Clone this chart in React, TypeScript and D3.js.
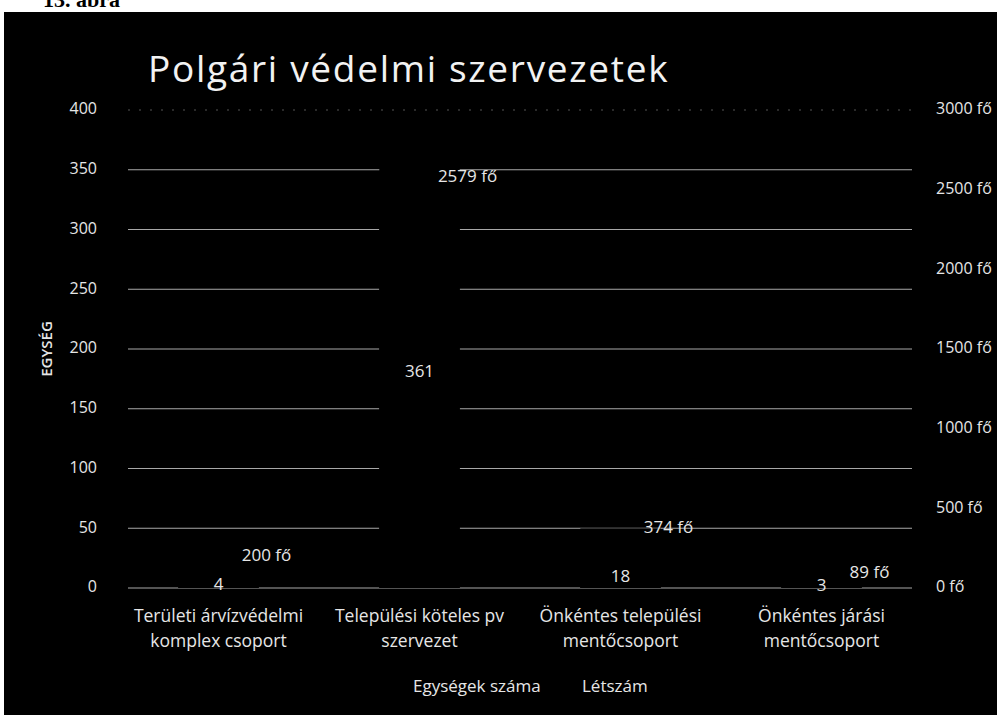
import React from "react";
import * as d3 from "d3";

const categories: string[][] = [
  ["Területi árvízvédelmi", "komplex csoport"],
  ["Települési köteles pv", "szervezet"],
  ["Önkéntes települési", "mentőcsoport"],
  ["Önkéntes járási", "mentőcsoport"],
];
const units = [4, 361, 18, 3];
const staff = [200, 2579, 374, 89];
const leftTicks = [0, 50, 100, 150, 200, 250, 300, 350, 400];
const rightTicks = [0, 500, 1000, 1500, 2000, 2500, 3000];
const seriesNames = ["Egységek száma", "Létszám"];
const titleText = "Polgári védelmi szervezetek";
const axisTitle = "EGYSÉG";
const figureLabel = "13. ábra";

export default function App() {
  const W = 997;
  const H = 715;
  const font = "'Open Sans', sans-serif";
  const txt = "#e6e6e6";

  const x = d3
    .scaleBand<number>()
    .domain(d3.range(categories.length))
    .range([118, 922])
    .padding(0);
  const yL = d3.scaleLinear().domain([0, 400]).range([588, 110]);
  const yR = d3.scaleLinear().domain([0, 3000]).range([588, 110]);
  const bw = x.bandwidth() * 0.4;
  const cx = (i: number) => (x(i) as number) + x.bandwidth() / 2;

  return (
    <svg
      width={W}
      height={H}
      style={{ position: "absolute", left: 0, top: 0, background: "#fff" }}
    >
      <text
        x={43}
        y={7}
        fontFamily="'Liberation Serif', serif"
        fontWeight="bold"
        fontSize={22}
        fill="#000"
      >
        {figureLabel}
      </text>
      <rect x={4} y={12} width={W - 4} height={H - 12} fill="#000" />

      <text x={148} y={82} fontFamily={font} fontSize={37} fill="#f2f2f2" letterSpacing={1.7}>
        {titleText}
      </text>

      {/* gridlines */}
      {leftTicks.map((t) => (
        <line
          key={"g" + t}
          x1={128}
          x2={912}
          y1={yL(t)}
          y2={yL(t)}
          stroke={t === 400 ? "#555" : "#a8a8a8"}
          strokeWidth={1}
          strokeDasharray={t === 400 ? "2 9" : undefined}
        />
      ))}

      {/* bars (black, as in the original) */}
      {units.map((v, i) => (
        <rect
          key={"u" + i}
          x={cx(i) - bw / 2}
          y={yL(v)}
          width={bw}
          height={yL(0) - yL(v)}
          fill="#000"
        />
      ))}
      {staff.map((v, i) => (
        <rect
          key={"s" + i}
          x={cx(i) - bw / 2}
          y={yR(v)}
          width={bw}
          height={yR(0) - yR(v)}
          fill="#000"
        />
      ))}

      {/* left ticks */}
      {leftTicks.map((t) => (
        <text
          key={"l" + t}
          x={97}
          y={yL(t)}
          textAnchor="end"
          dominantBaseline="middle"
          fontFamily={font}
          fontSize={16}
          fill={txt}
        >
          {t}
        </text>
      ))}
      {/* right ticks */}
      {rightTicks.map((t) => (
        <text
          key={"r" + t}
          x={936}
          y={yR(t)}
          dominantBaseline="middle"
          fontFamily={font}
          fontSize={16}
          fill={txt}
        >
          {t + " fő"}
        </text>
      ))}

      <text
        transform={`translate(48,${yL(200)}) rotate(-90)`}
        textAnchor="middle"
        dominantBaseline="middle"
        fontFamily={font}
        fontSize={15}
        fontWeight="600"
        fill={txt}
      >
        {axisTitle}
      </text>

      {/* category labels */}
      {categories.map((lines, i) => (
        <text
          key={"c" + i}
          x={cx(i)}
          y={622}
          textAnchor="middle"
          fontFamily={font}
          fontSize={17.5}
          fill={txt}
        >
          {lines.map((l, j) => (
            <tspan key={j} x={cx(i)} dy={j === 0 ? 0 : 25}>
              {l}
            </tspan>
          ))}
        </text>
      ))}

      {/* value labels */}
      {units.map((v, i) => (
        <text
          key={"vu" + i}
          x={cx(i)}
          y={(yL(v) + yL(0)) / 2}
          textAnchor="middle"
          dominantBaseline="middle"
          fontFamily={font}
          fontSize={17}
          fill={txt}
        >
          {v}
        </text>
      ))}
      {staff.map((v, i) => (
        <text
          key={"vs" + i}
          x={cx(i) + 48}
          y={yR(v)}
          textAnchor="middle"
          dominantBaseline="middle"
          fontFamily={font}
          fontSize={17}
          fill={txt}
        >
          {v + " fő"}
        </text>
      ))}

      {/* legend */}
      {seriesNames.map((n, i) => {
        const lx = i === 0 ? 413 : 582;
        return (
          <g key={"lg" + i}>
            <rect x={lx - 14} y={682} width={9} height={9} fill="#000" />
            <text
              x={lx}
              y={687}
              dominantBaseline="middle"
              fontFamily={font}
              fontSize={17}
              fill={txt}
            >
              {n}
            </text>
          </g>
        );
      })}
    </svg>
  );
}
